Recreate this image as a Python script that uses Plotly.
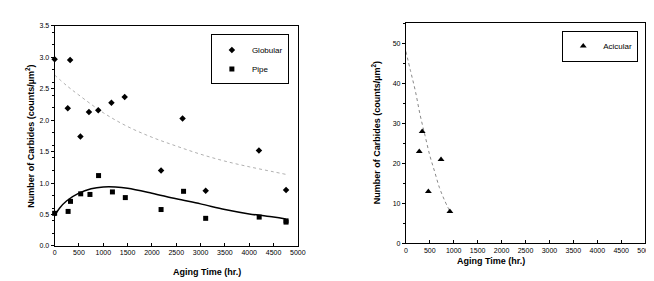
import plotly.graph_objects as go

# Left panel data
glob_t = [0, 318, 270, 530, 705, 897, 1168, 1440, 2188, 2630, 3105, 4200, 4757]
glob_n = [2.97, 2.96, 2.19, 1.74, 2.13, 2.16, 2.28, 2.37, 1.20, 2.03, 0.88, 1.52, 0.89]
pipe_t = [0, 277, 326, 536, 726, 903, 1188, 1453, 2188, 2650, 3105, 4205, 4757, 4757]
pipe_n = [0.52, 0.55, 0.71, 0.83, 0.82, 1.12, 0.86, 0.77, 0.58, 0.87, 0.44, 0.46, 0.40, 0.38]
glob_fit_t = [0, 250, 500, 1000, 1500, 2000, 2500, 3000, 3500, 4000, 4500, 4750]
glob_fit_n = [2.72, 2.55, 2.40, 2.12, 1.90, 1.73, 1.59, 1.46, 1.35, 1.26, 1.18, 1.14]
pipe_fit_t = [0, 100, 250, 500, 750, 1000, 1250, 1500, 2000, 2500, 3000, 3500, 4000, 4500, 4750]
pipe_fit_n = [0.48, 0.60, 0.72, 0.84, 0.91, 0.94, 0.94, 0.92, 0.84, 0.75, 0.67, 0.58, 0.51, 0.46, 0.43]

# Right panel data
acic_t = [280, 341, 470, 735, 920]
acic_n = [23, 28, 13, 21, 8]
acic_fit_t = [0, 100, 200, 300, 400, 500, 600, 700, 800, 920]
acic_fit_n = [48, 43, 38, 32, 27, 22, 18, 14, 11, 8]

x_ticks = [0, 500, 1000, 1500, 2000, 2500, 3000, 3500, 4000, 4500, 5000]
left_y_ticks = [0.0, 0.5, 1.0, 1.5, 2.0, 2.5, 3.0, 3.5]
right_y_ticks = [0, 10, 20, 30, 40, 50]

FONT = "Liberation Sans, Arial, sans-serif"

fig = go.Figure()
fig.add_trace(go.Scatter(x=glob_fit_t, y=glob_fit_n, mode="lines", line_shape="spline",
                         line=dict(color="#b0b0b0", width=1, dash="dot"),
                         showlegend=False, xaxis="x", yaxis="y"))
fig.add_trace(go.Scatter(x=pipe_fit_t, y=pipe_fit_n, mode="lines", line_shape="spline",
                         line=dict(color="black", width=1.5),
                         showlegend=False, xaxis="x", yaxis="y"))
fig.add_trace(go.Scatter(x=glob_t, y=glob_n, mode="markers", name="Globular", cliponaxis=False,
                         marker=dict(symbol="diamond", size=5, color="black"),
                         xaxis="x", yaxis="y", legend="legend"))
fig.add_trace(go.Scatter(x=pipe_t, y=pipe_n, mode="markers", name="Pipe", cliponaxis=False,
                         marker=dict(symbol="square", size=5, color="black"),
                         xaxis="x", yaxis="y", legend="legend"))
fig.add_trace(go.Scatter(x=acic_fit_t, y=acic_fit_n, mode="lines", line_shape="spline",
                         line=dict(color="#888888", width=1, dash="dot"),
                         showlegend=False, xaxis="x2", yaxis="y2"))
fig.add_trace(go.Scatter(x=acic_t, y=acic_n, mode="markers", name="Acicular", cliponaxis=False,
                         marker=dict(symbol="triangle-up", size=6, color="black"),
                         xaxis="x2", yaxis="y2", legend="legend2"))

base = dict(showline=True, linecolor="black", linewidth=1, mirror=True,
            showgrid=False, zeroline=False, ticklen=3, tickcolor="black",
            tickfont=dict(size=7, family=FONT, color="black"))
x_axis = dict(base, ticks="inside", minor=dict(ticks="inside", ticklen=2, tickcolor="black"))
y_axis = dict(base, ticks="outside", minor=dict(ticks="outside", ticklen=2, tickcolor="black"))

fig.update_layout(
    width=654, height=281, margin=dict(l=0, r=0, t=0, b=0),
    paper_bgcolor="white", plot_bgcolor="white",
    font=dict(family=FONT, color="black"),
    xaxis=dict(domain=[0.0693, 0.4470], range=[0, 5000], tickvals=x_ticks, anchor="y", **x_axis),
    yaxis=dict(domain=[0.146, 0.949], range=[0, 3.5], tickvals=left_y_ticks, tickformat=".1f", anchor="x", **y_axis),
    xaxis2=dict(domain=[0.6147, 0.9862], range=[0, 5000], tickvals=x_ticks, anchor="y2", **x_axis),
    yaxis2=dict(domain=[0.1555, 0.9584], range=[0, 55], tickvals=right_y_ticks, anchor="x2", **y_axis),
    legend=dict(x=204/654, y=1-23/281, xanchor="left", yanchor="top", bgcolor="white",
                bordercolor="black", borderwidth=1, font=dict(size=8, family=FONT),
                itemwidth=30, tracegroupgap=4),
    legend2=dict(x=638/654, y=1-19/281, xanchor="right", yanchor="top", bgcolor="white",
                 bordercolor="black", borderwidth=1, font=dict(size=8, family=FONT),
                 itemwidth=30),
    annotations=[
        dict(text="<b>Aging Time (hr.)</b>", x=163/654, y=1-274/281, xref="paper", yref="paper",
             showarrow=False, font=dict(size=9, family=FONT)),
        dict(text="<b>Aging Time (hr.)</b>", x=525/654, y=1-263/281, xref="paper", yref="paper",
             showarrow=False, font=dict(size=9, family=FONT)),
        dict(text="<b>Number of Carbides (counts/µm<sup>2</sup>)</b>", x=12/654, y=1-127/281,
             xref="paper", yref="paper", showarrow=False, textangle=-90, font=dict(size=9, family=FONT)),
        dict(text="<b>Number of Carbides (counts/µm<sup>2</sup>)</b>", x=372/654, y=1-124/281,
             xref="paper", yref="paper", showarrow=False, textangle=-90, font=dict(size=9, family=FONT)),
    ],
)

fig.write_html("out.html")
